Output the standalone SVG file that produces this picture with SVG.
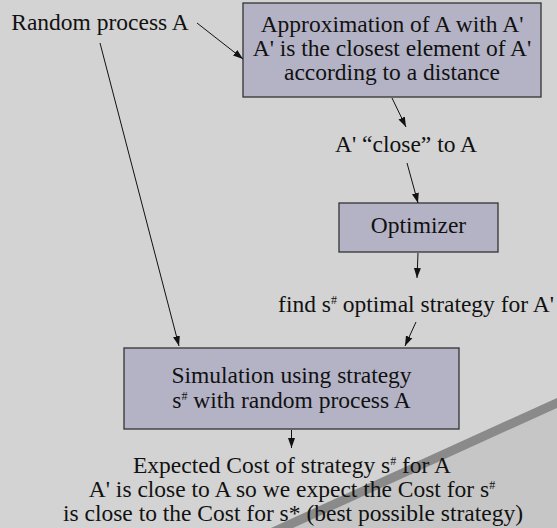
<svg xmlns="http://www.w3.org/2000/svg" width="557" height="528" viewBox="0 0 557 528">
<style>
text{font-family:"Liberation Serif","DejaVu Serif",serif;font-size:23.5px;fill:#111;text-anchor:middle}
.box{fill:#b4b3c5;stroke:#333;stroke-width:1.3}
.conn line{stroke:#111;stroke-width:1;marker-end:url(#ah)}
.sup{font-size:12px}
</style>
<defs>
<marker id="ah" markerWidth="10" markerHeight="8" refX="10" refY="4" orient="auto" markerUnits="userSpaceOnUse">
<path d="M0,0.5 L10,4 L0,7.5 z" fill="#111"/>
</marker>
</defs>
<rect width="557" height="528" fill="#d3d3d3"/>
<polygon points="292,528 557,408 557,528" fill="#c6c6c6"/>
<polygon points="271,528 557,398 557,408 293,528" fill="#8a8a8a"/>

<g id="random"><text x="100" y="30">Random process A</text></g>

<g id="approx">
<rect class="box" x="243" y="3" width="298" height="94"/>
<text x="392" y="32">Approximation of A with A'</text>
<text x="392" y="56">A' is the closest element of A'</text>
<text x="392" y="80">according to a distance</text>
</g>

<g id="close"><text x="406" y="152">A' “close” to A</text></g>

<g id="optimizer">
<rect class="box" x="339" y="203" width="159" height="49"/>
<text x="418.5" y="233">Optimizer</text>
</g>

<g id="find"><text x="416" y="312">find s<tspan class="sup" dy="-8">#</tspan><tspan dy="8"> optimal strategy for A'</tspan></text></g>

<g id="simulation">
<rect class="box" x="124" y="348" width="335" height="81"/>
<text x="291.5" y="383">Simulation using strategy</text>
<text x="291.5" y="408">s<tspan class="sup" dy="-8">#</tspan><tspan dy="8"> with random process A</tspan></text>
</g>

<g id="result">
<text x="292" y="473">Expected Cost of strategy s<tspan class="sup" dy="-8">#</tspan><tspan dy="8"> for A</tspan></text>
<text x="292" y="497">A' is close to A so we expect the Cost for s<tspan class="sup" dy="-8">#</tspan></text>
<text x="293" y="521">is close to the Cost for s* (best possible strategy)</text>
</g>

<g id="connectors" class="conn">
<line x1="197" y1="23" x2="243" y2="59"/>
<line x1="100" y1="43" x2="179" y2="346"/>
<line x1="392" y1="98" x2="406" y2="127"/>
<line x1="407" y1="163" x2="418" y2="203"/>
<line x1="418" y1="253" x2="417" y2="278"/>
<line x1="416" y1="322" x2="405" y2="346"/>
<line x1="291.5" y1="430" x2="291.5" y2="448"/>
</g>
</svg>
